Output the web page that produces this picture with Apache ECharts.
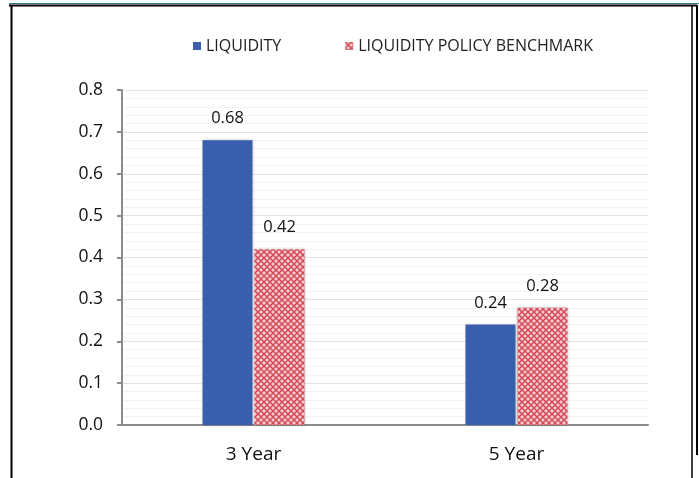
<!DOCTYPE html>
<html><head><meta charset="utf-8">
<script src="https://cdn.jsdelivr.net/npm/echarts@6/dist/echarts.min.js"></script>
<style>html,body{margin:0;padding:0;background:#fff}#c{width:699px;height:478px}</style>
</head><body><div id="c"></div>
<script>
const categories = ['3 Year', '5 Year'];
const liquidity = [0.68, 0.24];
const benchmark = [0.42, 0.28];
const seriesNames = ['LIQUIDITY', 'LIQUIDITY POLICY BENCHMARK'];

function makePattern() {
  const c = document.createElement('canvas');
  c.width = 6; c.height = 6;
  const g = c.getContext('2d');
  g.fillStyle = '#f4cdd0';
  g.fillRect(0, 0, 6, 6);
  g.strokeStyle = '#d44a58';
  g.lineWidth = 1.5;
  g.beginPath();
  g.moveTo(0, 0); g.lineTo(6, 6);
  g.moveTo(6, 0); g.lineTo(0, 6);
  g.stroke();
  return c;
}
const pat = { image: makePattern(), repeat: 'repeat' };
const FONT = 'Open Sans';

const chart = echarts.init(document.getElementById('c'));
chart.setOption({
  animation: false,
  backgroundColor: '#fff',
  textStyle: { fontFamily: FONT },
  legend: {
    top: 33, left: 188, itemGap: 64, itemWidth: 8, itemHeight: 8,
    textStyle: { fontSize: 16, color: '#222', fontFamily: FONT },
    data: [
      { name: seriesNames[0], icon: 'rect' },
      { name: seriesNames[1], icon: 'rect' }
    ]
  },
  grid: { left: 122, right: 51, top: 90, bottom: 53 },
  xAxis: {
    type: 'category', data: categories,
    axisLine: { lineStyle: { color: '#8c8c8c', width: 2 } },
    axisTick: { show: false },
    axisLabel: { fontSize: 19, color: '#111', margin: 20, fontFamily: FONT }
  },
  yAxis: {
    type: 'value', min: 0, max: 0.8, interval: 0.1,
    axisLine: { show: true, lineStyle: { color: '#8c8c8c', width: 2 } },
    axisTick: { show: true, length: 5, lineStyle: { color: '#8c8c8c', width: 2 } },
    axisLabel: { fontSize: 17.5, color: '#111', margin: 19, formatter: v => v.toFixed(1), fontFamily: FONT },
    splitLine: { show: true, lineStyle: { color: '#e4e4e4', width: 1 } },
    minorTick: { show: false, splitNumber: 5 },
    minorSplitLine: { show: true, lineStyle: { color: '#f2f2f2', width: 1 } }
  },
  series: [
    {
      name: seriesNames[0], type: 'bar', data: liquidity, barWidth: 50, barGap: '4%',
      itemStyle: { color: '#3a5eae', shadowBlur: 3, shadowColor: 'rgba(0,0,0,0.25)' },
      label: { show: true, position: 'top', distance: 13, fontSize: 16.5, color: '#111', formatter: p => p.value.toFixed(2) }
    },
    {
      name: seriesNames[1], type: 'bar', data: benchmark, barWidth: 50,
      itemStyle: { color: pat, shadowBlur: 3, shadowColor: 'rgba(0,0,0,0.25)' },
      label: { show: true, position: 'top', distance: 13, fontSize: 16.5, color: '#111', formatter: p => p.value.toFixed(2) }
    }
  ],
  graphic: [
    { type: 'line', shape: { x1: 9, y1: 3.5, x2: 699, y2: 3.5 }, style: { stroke: '#2a7a78', lineWidth: 1 } },
    { type: 'line', shape: { x1: 9, y1: 5.5, x2: 697, y2: 5.5 }, style: { stroke: '#000', lineWidth: 2 } },
    { type: 'line', shape: { x1: 11.5, y1: 5, x2: 11.5, y2: 478 }, style: { stroke: '#000', lineWidth: 2 } },
    { type: 'line', shape: { x1: 692, y1: 5, x2: 692, y2: 478 }, style: { stroke: '#000', lineWidth: 1.5 } },
    { type: 'line', shape: { x1: 697, y1: 5, x2: 697, y2: 455 }, style: { stroke: '#000', lineWidth: 2 } }
  ]
});
</script></body></html>
